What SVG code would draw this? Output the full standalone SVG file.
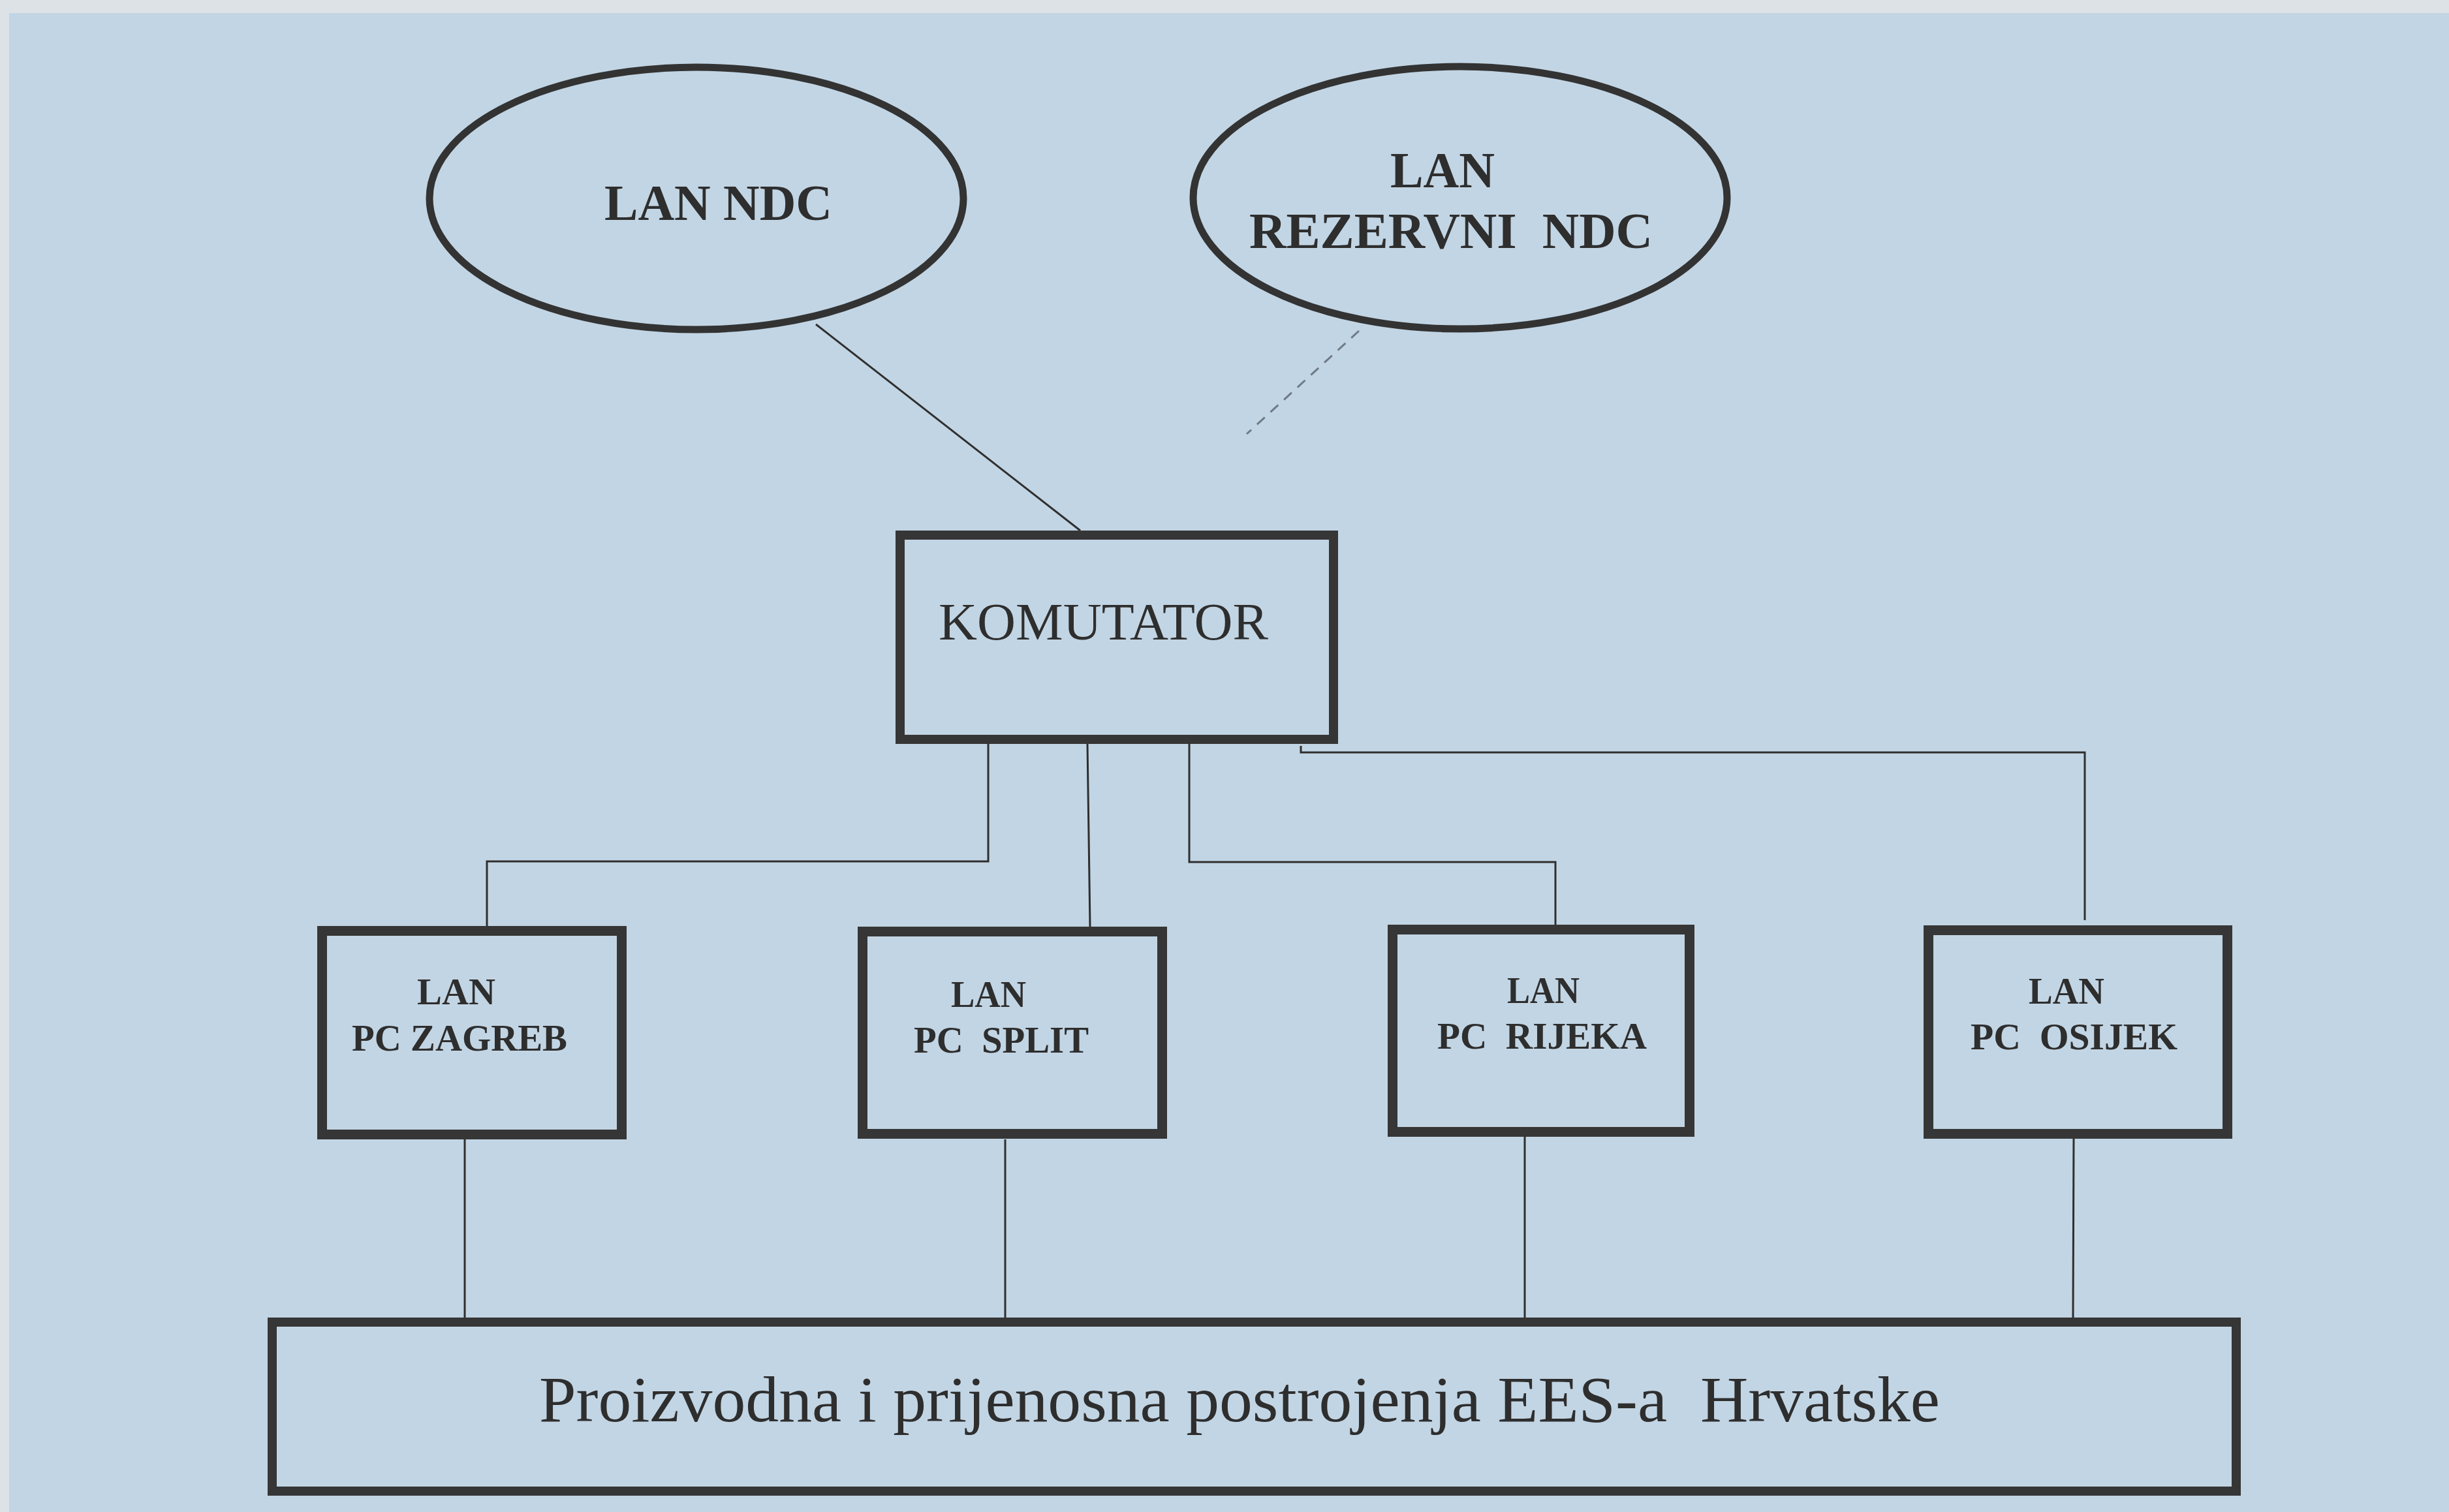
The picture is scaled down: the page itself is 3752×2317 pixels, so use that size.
<svg xmlns="http://www.w3.org/2000/svg" width="3752" height="2317" viewBox="0 0 3752 2317">
  <style>
    .box { fill: none; stroke: #363636; stroke-width: 15; stroke-linejoin: miter; }
    .oval { fill: none; stroke: #333333; stroke-width: 11; }
    .wire { fill: none; stroke: #2f2f2f; stroke-width: 3; }
    .dash { fill: none; stroke: #6f7a86; stroke-width: 3; stroke-dasharray: 16 12; }
    .t { font-family: "Liberation Serif", "Times New Roman", serif; fill: #2e2e2e; white-space: pre; }
    .b { font-weight: bold; }
  </style>

  <!-- paper and blue panel -->
  <rect x="0" y="0" width="3752" height="2317" fill="#dde2e6"/>
  <rect x="14" y="20" width="3738" height="2297" fill="#c2d5e4"/>

  <!-- connectors -->
  <g id="connectors">
    <line class="wire" x1="1250" y1="497" x2="1655" y2="813"/>
    <line class="dash" x1="2082" y1="507" x2="1910" y2="665"/>
    <path class="wire" d="M1514 1140 V1320 H746 V1420"/>
    <line class="wire" x1="1666" y1="1140" x2="1670" y2="1420"/>
    <path class="wire" d="M1822 1140 V1321 H2383 V1417"/>
    <path class="wire" d="M1993 1143 V1153 H3194 V1410"/>
    <line class="wire" x1="712" y1="1746" x2="712" y2="2020"/>
    <line class="wire" x1="1540" y1="1746" x2="1540" y2="2020"/>
    <line class="wire" x1="2336" y1="1742" x2="2336" y2="2020"/>
    <line class="wire" x1="3177" y1="1745" x2="3176" y2="2020"/>
  </g>

  <g id="lan-ndc">
    <ellipse class="oval" cx="1067" cy="304" rx="409" ry="201"/>
    <text class="t b" x="926" y="337" font-size="78" textLength="349" lengthAdjust="spacingAndGlyphs">LAN NDC</text>
  </g>

  <g id="lan-rezervni-ndc">
    <ellipse class="oval" cx="2237" cy="303" rx="409" ry="201"/>
    <text class="t b" x="2130" y="287" font-size="78" textLength="160" lengthAdjust="spacingAndGlyphs">LAN</text>
    <text class="t b" x="1914" y="380" font-size="78" textLength="618" lengthAdjust="spacingAndGlyphs">REZERVNI  NDC</text>
  </g>

  <g id="komutator">
    <rect class="box" x="1379" y="820" width="664" height="313" style="stroke-width:14"/>
    <text class="t" x="1438" y="980" font-size="80" textLength="505" lengthAdjust="spacingAndGlyphs">KOMUTATOR</text>
  </g>

  <g id="pc-zagreb">
    <rect class="box" x="493.5" y="1426.5" width="459" height="312"/>
    <text class="t b" x="639" y="1539" font-size="56" textLength="120" lengthAdjust="spacingAndGlyphs">LAN</text>
    <text class="t b" x="539" y="1610" font-size="56" textLength="330" lengthAdjust="spacingAndGlyphs">PC ZAGREB</text>
  </g>

  <g id="pc-split">
    <rect class="box" x="1321.5" y="1427.5" width="459" height="310"/>
    <text class="t b" x="1457" y="1543" font-size="56" textLength="115" lengthAdjust="spacingAndGlyphs">LAN</text>
    <text class="t b" x="1400" y="1613" font-size="56" textLength="268" lengthAdjust="spacingAndGlyphs">PC  SPLIT</text>
  </g>

  <g id="pc-rijeka">
    <rect class="box" x="2133.5" y="1424.5" width="455" height="310"/>
    <text class="t b" x="2309" y="1537" font-size="56" textLength="111" lengthAdjust="spacingAndGlyphs">LAN</text>
    <text class="t b" x="2202" y="1607" font-size="56" textLength="321" lengthAdjust="spacingAndGlyphs">PC  RIJEKA</text>
  </g>

  <g id="pc-osijek">
    <rect class="box" x="2954.5" y="1425.5" width="458" height="312"/>
    <text class="t b" x="3108" y="1538" font-size="56" textLength="116" lengthAdjust="spacingAndGlyphs">LAN</text>
    <text class="t b" x="3019" y="1608" font-size="56" textLength="317" lengthAdjust="spacingAndGlyphs">PC  OSIJEK</text>
  </g>

  <g id="postrojenja">
    <rect class="box" x="417" y="2026" width="3009" height="259" style="stroke-width:14"/>
    <text class="t" x="826" y="2178" font-size="100" textLength="2146" lengthAdjust="spacingAndGlyphs">Proizvodna i prijenosna postrojenja EES-a  Hrvatske</text>
  </g>
</svg>
